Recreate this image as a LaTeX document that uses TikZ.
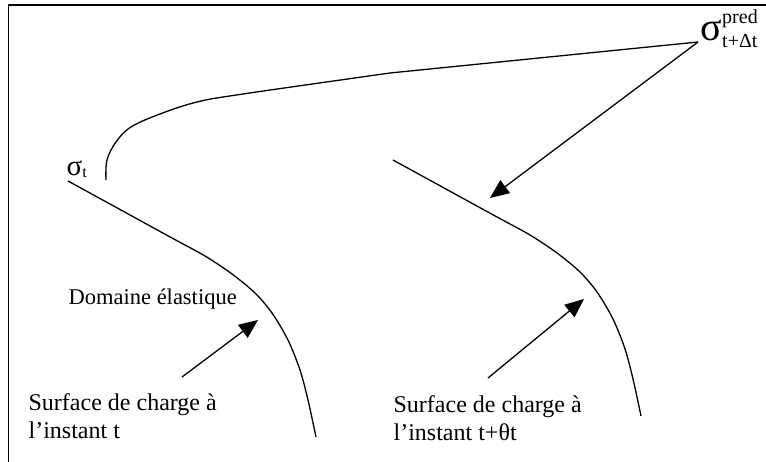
\documentclass[tikz,border=0pt]{standalone}
\usepackage{fontspec}
\setmainfont{Liberation Serif}
\usetikzlibrary{arrows.meta}

\begin{document}
\begin{tikzpicture}[x=1pt,y=-1pt,line width=1.3pt,
  lbl/.style={inner sep=0pt,anchor=base west,align=left,font=\fontsize{24}{28}\selectfont},
  pointer/.style={-{Triangle[length=19pt,width=16pt]}}]
  \useasboundingbox (0,0) rectangle (766,462);
  \draw[line width=1.6pt] (8.5,462) -- (8.5,5) -- (766,5);
  % the two load surfaces, same shape, shifted
  \foreach \dx/\dy in {0/0,325/-21} {
    \draw[shift={(\dx,\dy)}] plot[smooth,tension=0.5] coordinates {(68,181) (120,209.5) (172,238) (205,256) (232,274) (255,293) (272,313) (288,340) (300,370) (308,400) (316,437)};
  }
  \node[lbl,font=\fontsize{29}{30}\selectfont] (sigt) at (66,176) {σ\raisebox{-1.5pt}{\fontsize{16}{16}\selectfont t}};
  \node[lbl,font=\fontsize{40}{40}\selectfont] (pred) at (700,41) {σ\rlap{\raisebox{17pt}{\fontsize{20}{20}\selectfont pred}}\raisebox{-7pt}{\fontsize{20}{20}\selectfont t+Δt}};
  \node[lbl,font=\fontsize{22.5}{27}\selectfont] (dom) at (68,305) {Domaine élastique};
  \node[lbl] (surf1) at (28,438) {Surface de charge à\\l’instant t};
  \node[lbl] (surf2) at (393,440) {Surface de charge à\\l’instant t+θt};
  \coordinate (predtail) at (698,42);
  \coordinate (tip1) at (258,320);
  \coordinate (tail1) at (182,377);
  \coordinate (tip2) at (584,299);
  \coordinate (tail2) at (488,378);
  \coordinate (tip3) at (490,198);
  % predicted stress path
  \draw plot[smooth,tension=0.6] coordinates {(106,180) (107,160) (116,142) (131,127) (160,114) (197,102) (243,94) (390,73)} -- (predtail);
  \draw[pointer] (predtail) -- (tip3);
  \draw[pointer] (tail1) -- (tip1);
  \draw[pointer] (tail2) -- (tip2);
\end{tikzpicture}
\end{document}
